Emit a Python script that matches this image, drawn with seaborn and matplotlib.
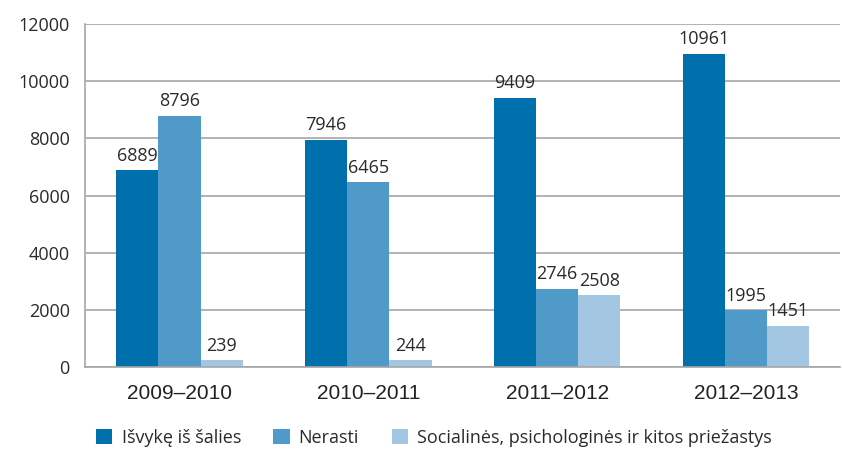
import pandas as pd
import numpy as np
import seaborn as sns
import matplotlib.pyplot as plt
from matplotlib.ticker import FixedLocator

years = ["2009–2010", "2010–2011", "2011–2012", "2012–2013"]
series = ["Išvykę iš šalies", "Nerasti", "Socialinės, psichologinės ir kitos priežastys"]
isvyke = [6889, 7946, 9409, 10961]
nerasti = [8796, 6465, 2746, 1995]
kitos = [239, 244, 2508, 1451]
colors = ["#0070ad", "#509ac9", "#a3c6e2"]


def draw_chart():
    df = pd.DataFrame({
        "metai": years * 3,
        "grupe": [series[0]] * 4 + [series[1]] * 4 + [series[2]] * 4,
        "kiekis": isvyke + nerasti + kitos,
    })

    sns.set_style("white")
    plt.rcParams["font.family"] = ["Open Sans", "DejaVu Sans"]

    fig = plt.figure(figsize=(8.42, 4.5), dpi=100)
    ax = fig.add_axes([0.101, 0.184, 0.897, 0.763])

    sns.barplot(
        data=df, x="metai", y="kiekis", hue="grupe",
        palette=colors, width=0.67, saturation=1,
        linewidth=0, ax=ax, legend=True,
    )

    for cont in ax.containers:
        ax.bar_label(cont, fmt="%d", padding=4, fontsize=13, color="#2a2a2a")

    ax.set_ylim(0, 12000)
    ax.set_xlim(-0.5, 3.5)
    ax.set_yticks(np.arange(0, 12001, 2000))
    ax.yaxis.grid(True, color="#a6a6a6", linewidth=1.2)
    ax.set_axisbelow(True)

    # ticks between categories, like the original
    ax.xaxis.set_minor_locator(FixedLocator([-0.5, 0.5, 1.5, 2.5, 3.5]))
    ax.tick_params(axis="x", which="minor", length=8, color="#a6a6a6", width=1.2)
    ax.tick_params(axis="x", which="major", length=0, pad=12)
    ax.tick_params(axis="y", length=7, color="#a6a6a6", width=1.2, labelsize=13, labelcolor="#2a2a2a", pad=4)
    for lab in ax.get_xticklabels():
        lab.set_fontfamily("Liberation Sans")
        lab.set_fontsize(15)
        lab.set_color("#222222")

    for s in ["top", "right"]:
        ax.spines[s].set_visible(False)
    for s in ["left", "bottom"]:
        ax.spines[s].set_color("#a6a6a6")
        ax.spines[s].set_linewidth(1.2)

    ax.set_xlabel("")
    ax.set_ylabel("")

    handles, labels = ax.get_legend_handles_labels()
    ax.get_legend().remove()
    fig.legend(
        handles, labels, loc="center left", bbox_to_anchor=(0.095, 0.027),
        ncol=3, frameon=False, fontsize=13, handlelength=0.9, handleheight=0.9,
        handletextpad=0.5, columnspacing=1.8, labelcolor="#2a2a2a",
    )

    fig.savefig("out.png", dpi=100)


if __name__ == "__main__":
    draw_chart()
